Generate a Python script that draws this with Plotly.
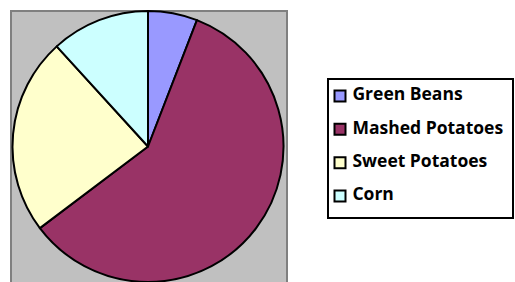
import plotly.graph_objects as go

categories = ["Green Beans", "Mashed Potatoes", "Sweet Potatoes", "Corn"]
values = [5, 50, 20, 10]
colors = ["#9999FF", "#993366", "#FFFFCC", "#CCFFFF"]

W, H = 515, 282

fig = go.Figure()

# Pie
fig.add_trace(go.Pie(
    labels=categories, values=values, sort=False, direction="clockwise",
    rotation=0, textinfo="none", showlegend=False,
    marker=dict(colors=colors, line=dict(color="black", width=2)),
    domain=dict(x=[12 / W, 284 / W], y=[0, 1 - 11 / H]),
))

# Legend drawn as a scatter on its own axes
idx = list(range(len(categories)))
fig.add_trace(go.Scatter(
    x=[12] * len(categories), y=idx, mode="markers+text",
    text=[" " + c for c in categories], textposition="middle right",
    textfont=dict(family="Open Sans", size=17.5, color="black", weight="bold"),
    marker=dict(symbol="square", size=11, color=colors, line=dict(color="black", width=2)),
    showlegend=False, hoverinfo="skip", cliponaxis=False,
))

lx0, lx1, ly0, ly1 = 328, 513, 79, 218
fig.update_layout(
    width=W, height=H, margin=dict(l=0, r=0, t=0, b=0),
    paper_bgcolor="white", plot_bgcolor="rgba(0,0,0,0)",
    showlegend=False,
    xaxis=dict(domain=[lx0 / W, lx1 / W], range=[0, lx1 - lx0], visible=False, fixedrange=True),
    yaxis=dict(domain=[1 - ly1 / H, 1 - ly0 / H], range=[3.66, -0.51], visible=False, fixedrange=True),
    shapes=[
        dict(type="rect", xref="paper", yref="paper", layer="below",
             x0=11 / W, x1=287 / W, y0=-0.05, y1=1 - 11 / H,
             fillcolor="#C0C0C0", line=dict(color="#808080", width=2)),
        dict(type="rect", xref="paper", yref="paper",
             x0=lx0 / W, x1=lx1 / W, y0=1 - ly1 / H, y1=1 - ly0 / H,
             fillcolor="rgba(0,0,0,0)", line=dict(color="black", width=2)),
    ],
)

fig.write_html("out.html", config={"displayModeBar": False},
               post_script="document.body.style.margin='0';")
